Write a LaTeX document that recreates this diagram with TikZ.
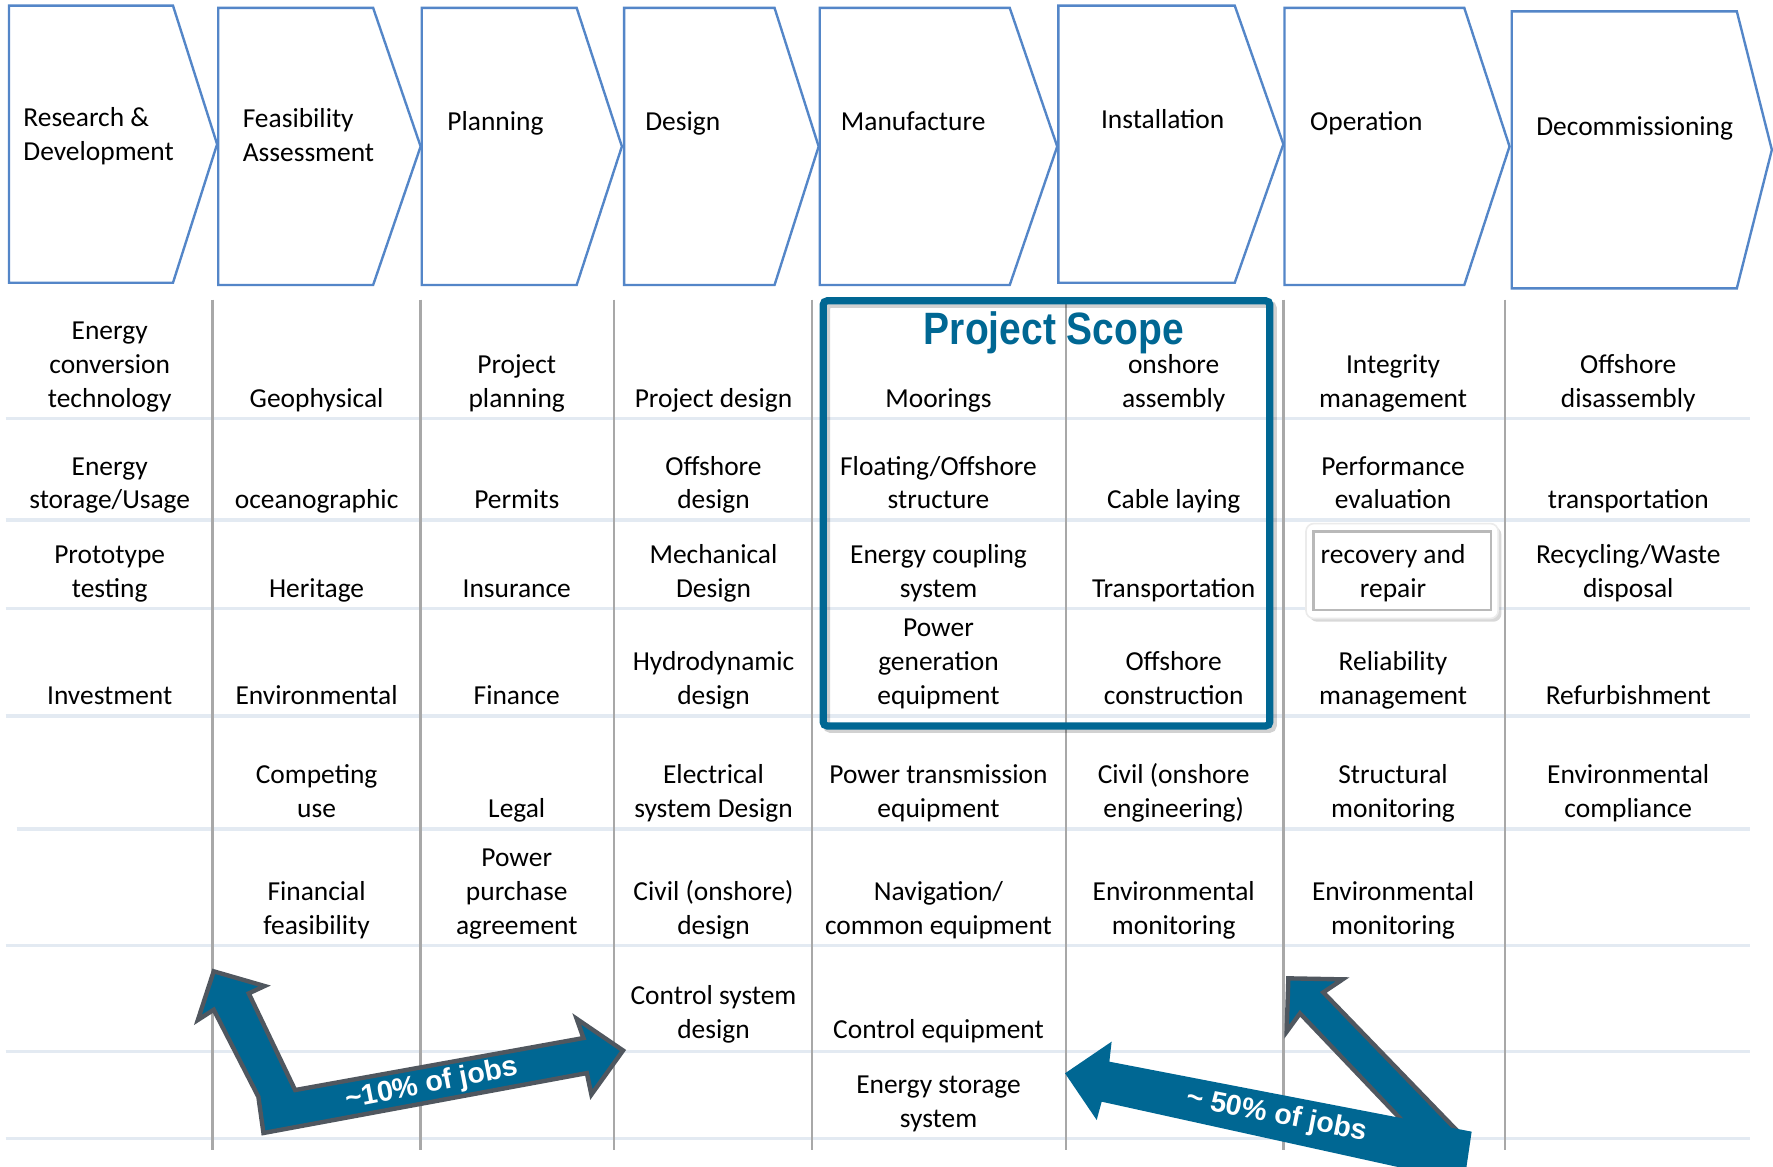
\documentclass[tikz,border=0pt]{standalone}
\usepackage{fontspec}
\setmainfont{Carlito}
\newfontfamily\headfont{Liberation Sans}
\usetikzlibrary{shadows}
\definecolor{stageblue}{RGB}{84,134,200}
\definecolor{scopeteal}{RGB}{0,103,147}
\definecolor{arrowgray}{RGB}{80,87,95}
\definecolor{gridgray}{RGB}{168,168,168}
\definecolor{gridlight}{RGB}{227,234,242}
\newcommand{\cellfont}{\fontsize{6.9}{8.5}\selectfont}

\begin{document}
\begin{tikzpicture}[x=0.01cm, y=-0.01cm]
        \tikzset{stage/.style={draw=stageblue, line width=0.6pt, fill=white}}
        \tikzset{stagelabel/.style={font=\cellfont, align=left, inner sep=0pt, anchor=base west}}
        \tikzset{cell/.style={font=\cellfont, align=center, inner sep=0pt, anchor=base}}
        \tikzset{jobarrow/.style={fill=scopeteal, draw=arrowgray, line width=1.1pt, line join=miter}}
        \tikzset{joblabel/.style={font=\headfont\bfseries\fontsize{7.2}{8}\selectfont, text=white, inner sep=0pt}}
        \useasboundingbox[fill=white] (0,0) rectangle (1568,1032);
        % stages
        \foreach \l/\t/\f/\p/\b in {8/5/153/192/250, 193/7/330/372/252, 373/7/510/550/252, 552/7/685/724/252,
                725/7/893/935/252, 936/5/1092/1135/250, 1136/7/1295/1335/252, 1337/10/1536/1567/255}
            \draw[stage] (\l,\t) -- (\f,\t) -- (\p,{(\t+\b)/2}) -- (\f,\b) -- (\l,\b) -- cycle;
        \node[stagelabel] (rd) at (20,141.5) {Research \&\\Development};
        \node[stagelabel] (feas) at (214,143) {Feasibility\\Assessment};
        \node[stagelabel] (plan) at (395,115) {Planning};
        \node[stagelabel] (des) at (570,115) {Design};
        \node[stagelabel] (manu) at (743,115) {Manufacture};
        \node[stagelabel] (inst) at (973,113.5) {Installation};
        \node[stagelabel] (oper) at (1158,115) {Operation};
        \node[stagelabel] (decom) at (1358,119.5) {Decommissioning};
        % table grid
        \foreach \y in {370,460,538,633,836,930,1007}
            \draw[gridlight, line width=0.9pt] (5,\y) -- (1548,\y);
        \draw[gridlight, line width=0.9pt] (15,733) -- (1548,733);
        \foreach \x in {188,372,543,718,943,1135,1331}
            \draw[gridgray, line width=0.6pt] (\x,265) -- (\x,1017);
        % scope frame
        \draw[black, opacity=0.18, line width=1.8pt, rounded corners=1pt] (731,269) rectangle (1126,645);
        \draw[scopeteal, line width=1.8pt, rounded corners=1pt] (728,266) rectangle (1123,642);
        \node[anchor=base, inner sep=0pt, text=scopeteal, font=\headfont\bfseries\fontsize{11.4}{13}\selectfont]
            (scope) at (932,305) {\scalebox{0.86}[1]{Project Scope}};
        % boxed cell
        \draw[fill=white, draw=white!92!black, rounded corners=2pt, drop shadow={opacity=0.3, shadow xshift=0.8pt, shadow yshift=-0.8pt}]
            (1155,463) rectangle (1325,547);
        \draw[gray!55, line width=0.6pt] (1161.5,470) rectangle (1318.5,539.5);
        % row 1
        \node[cell] (c11) at (97,360) {Energy\\conversion\\technology};
        \node[cell] (c12) at (280,360) {Geophysical};
        \node[cell] (c13) at (457,360) {Project\\planning};
        \node[cell] (c14) at (631,360) {Project design};
        \node[cell] (c15) at (830,360) {Moorings};
        \node[cell] (c16) at (1038,360) {onshore\\assembly};
        \node[cell] (c17) at (1232,360) {Integrity\\management};
        \node[cell] (c18) at (1440,360) {Offshore\\disassembly};
        % row 2
        \node[cell] (c21) at (97,450) {Energy\\storage/Usage};
        \node[cell] (c22) at (280,450) {oceanographic};
        \node[cell] (c23) at (457,450) {Permits};
        \node[cell] (c24) at (631,450) {Offshore\\design};
        \node[cell] (c25) at (830,450) {Floating/Offshore\\structure};
        \node[cell] (c26) at (1038,450) {Cable laying};
        \node[cell] (c27) at (1232,450) {Performance\\evaluation};
        \node[cell] (c28) at (1440,450) {transportation};
        % row 3
        \node[cell] (c31) at (97,528) {Prototype\\testing};
        \node[cell] (c32) at (280,528) {Heritage};
        \node[cell] (c33) at (457,528) {Insurance};
        \node[cell] (c34) at (631,528) {Mechanical\\Design};
        \node[cell] (c35) at (830,528) {Energy coupling\\system};
        \node[cell] (c36) at (1038,528) {Transportation};
        \node[cell] (c37) at (1232,528) {recovery and\\repair};
        \node[cell] (c38) at (1440,528) {Recycling/Waste\\disposal};
        % row 4
        \node[cell] (c41) at (97,623) {Investment};
        \node[cell] (c42) at (280,623) {Environmental};
        \node[cell] (c43) at (457,623) {Finance};
        \node[cell] (c44) at (631,623) {Hydrodynamic\\design};
        \node[cell] (c45) at (830,623) {Power\\generation\\equipment};
        \node[cell] (c46) at (1038,623) {Offshore\\construction};
        \node[cell] (c47) at (1232,623) {Reliability\\management};
        \node[cell] (c48) at (1440,623) {Refurbishment};
        % row 5
        \node[cell] (c52) at (280,723) {Competing\\use};
        \node[cell] (c53) at (457,723) {Legal};
        \node[cell] (c54) at (631,723) {Electrical\\system Design};
        \node[cell] (c55) at (830,723) {Power transmission\\equipment};
        \node[cell] (c56) at (1038,723) {Civil (onshore\\engineering)};
        \node[cell] (c57) at (1232,723) {Structural\\monitoring};
        \node[cell] (c58) at (1440,723) {Environmental\\compliance};
        % row 6
        \node[cell] (c62) at (280,826) {Financial\\feasibility};
        \node[cell] (c63) at (457,826) {Power\\purchase\\agreement};
        \node[cell] (c64) at (631,826) {Civil (onshore)\\design};
        \node[cell] (c65) at (830,826) {Navigation/\\common equipment};
        \node[cell] (c66) at (1038,826) {Environmental\\monitoring};
        \node[cell] (c67) at (1232,826) {Environmental\\monitoring};
        % rows 7 and 8
        \node[cell] (c74) at (631,918) {Control system\\design};
        \node[cell] (c75) at (830,918) {Control equipment};
        \node[cell] (c85) at (830,997) {Energy storage\\system};
        % job share arrows
        \draw[jobarrow] (233,1002) -- (519,949) -- (523,968) -- (551,929) -- (510,901) -- (516,918) -- (261,964)
            -- (220,878.5) -- (234,872) -- (189,859) -- (175,902) -- (189,893) -- (228.5,970) -- cycle;
        \node[joblabel, rotate=11] (early) at (382,959) {\textasciitilde10\% of jobs};
        \draw[jobarrow] (1139.4,865.2) -- (1187.4,866.1) -- (1170.3,877.6) -- (1294,1005.5) -- (1241,992)
            -- (1149.7,896.2) -- (1137.9,912.4) -- cycle;
        \fill[scopeteal] (941.9,949.2) -- (983.1,921.2) -- (981.1,938.9) -- (1301.5,1000.8) -- (1295,1045)
            -- (974.3,974.3) -- (969.9,990.5) -- cycle;
        \node[joblabel, rotate=-11] (late) at (1129,986.7) {\textasciitilde{} 50\% of jobs};
\end{tikzpicture}
\end{document}
